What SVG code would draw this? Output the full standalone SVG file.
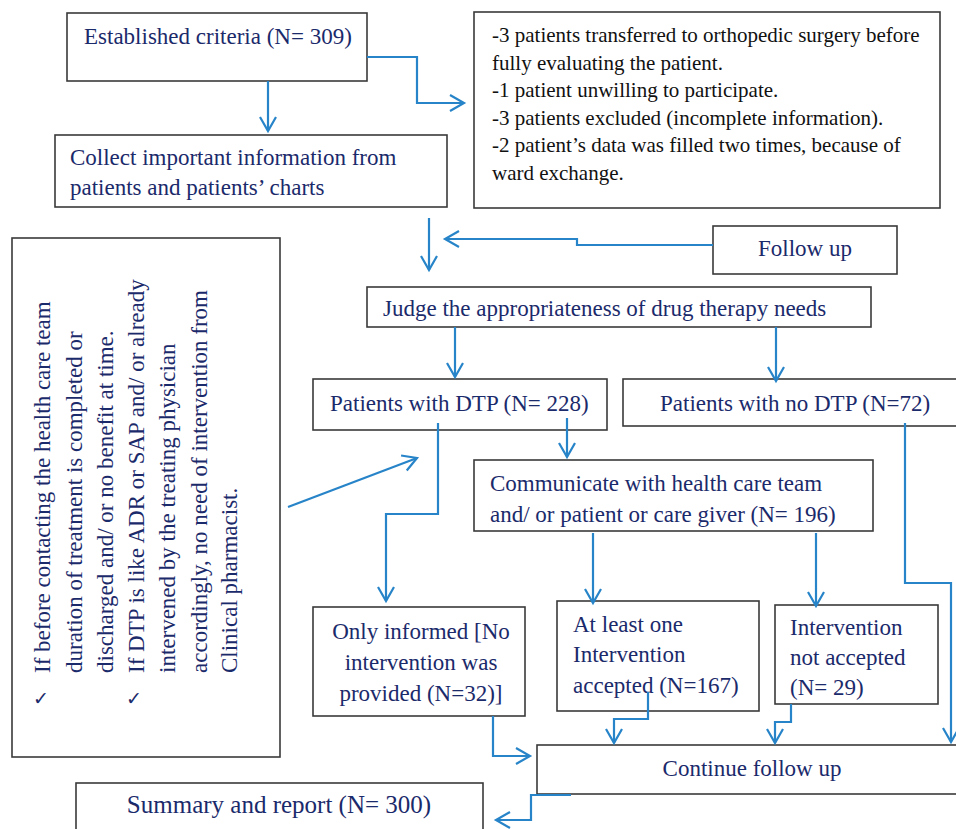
<svg xmlns="http://www.w3.org/2000/svg" width="956" height="829" viewBox="0 0 956 829">
<style>
.box{fill:#fff;stroke:#3a3a3a;stroke-width:1.6}
text{font-family:'Liberation Serif','Times New Roman',Times,serif}
.t{font-size:23px;fill:#1b2a6b}
.tb{font-size:21px;fill:#111}
.ck{font-family:'DejaVu Sans',sans-serif;font-size:19px;fill:#1b2a6b}
.c{fill:none;stroke:#2784c8;stroke-width:2.2;marker-end:url(#ah)}
.mid{text-anchor:middle}
</style>
<defs>
<marker id="ah" markerUnits="userSpaceOnUse" markerWidth="20" markerHeight="20" viewBox="-16 -10 18 20" refX="0" refY="0" orient="auto" overflow="visible">
<path d="M-14,-8 L0,0 L-14,8" fill="none" stroke="#2784c8" stroke-width="2.2"/>
</marker>
</defs>
<rect width="956" height="829" fill="#fff"/>

<g id="established">
<rect class="box" x="67" y="13" width="300" height="68"/>
<text class="t" x="84" y="44">Established criteria (N= 309)</text>
</g>
<g id="exclusions">
<rect class="box" x="474" y="12" width="466" height="196"/>
<text class="tb"><tspan x="492" y="42">-3 patients transferred to orthopedic surgery before</tspan><tspan x="492" y="70">fully evaluating the patient.</tspan><tspan x="492" y="97">-1 patient unwilling to participate.</tspan><tspan x="492" y="125">-3 patients excluded (incomplete information).</tspan><tspan x="492" y="152">-2 patient’s data was filled two times, because of</tspan><tspan x="492" y="180">ward exchange.</tspan></text>
</g>
<g id="collect">
<rect class="box" x="55" y="135" width="392" height="72"/>
<text class="t"><tspan x="70" y="165">Collect important information from</tspan><tspan x="70" y="195">patients and patients’ charts</tspan></text>
</g>
<g id="followup">
<rect class="box" x="713" y="226" width="184" height="48"/>
<text class="t mid" x="805" y="256">Follow up</text>
</g>
<g id="judge">
<rect class="box" x="367" y="287" width="504" height="40"/>
<text class="t" x="383" y="316">Judge the appropriateness of drug therapy needs</text>
</g>
<g id="notes">
<rect class="box" x="12" y="238" width="268" height="519"/>
<text class="t" transform="rotate(-90)"><tspan x="-673" y="50">If before contacting the health care team</tspan><tspan x="-673" y="82">duration of treatment is completed or</tspan><tspan x="-673" y="113">discharged and/ or no benefit at time.</tspan><tspan x="-673" y="144">If DTP is like ADR or SAP and/ or already</tspan><tspan x="-673" y="175">intervened by the treating physician</tspan><tspan x="-673" y="207">accordingly, no need of intervention from</tspan><tspan x="-673" y="237">Clinical pharmacist.</tspan></text>
<text class="ck" x="33" y="705">✓</text>
<text class="ck" x="126" y="705">✓</text>
</g>
<g id="dtp">
<rect class="box" x="313" y="379" width="294" height="51"/>
<text class="t" x="330" y="411">Patients with DTP (N= 228)</text>
</g>
<g id="nodtp">
<rect class="box" x="623" y="379" width="345" height="47"/>
<text class="t" x="660" y="411">Patients with no DTP (N=72)</text>
</g>
<g id="communicate">
<rect class="box" x="474" y="460" width="399" height="71"/>
<text class="t"><tspan x="490" y="491">Communicate with health care team</tspan><tspan x="490" y="522">and/ or patient or care giver (N= 196)</tspan></text>
</g>
<g id="informed">
<rect class="box" x="313" y="607" width="212" height="109"/>
<text class="t mid"><tspan x="421" y="639">Only informed [No</tspan><tspan x="421" y="670">intervention was</tspan><tspan x="421" y="701">provided (N=32)]</tspan></text>
</g>
<g id="accepted">
<rect class="box" x="557" y="601" width="202" height="110"/>
<text class="t"><tspan x="573" y="632">At least one</tspan><tspan x="573" y="662">Intervention</tspan><tspan x="573" y="693">accepted (N=167)</tspan></text>
</g>
<g id="notaccepted">
<rect class="box" x="775" y="605" width="163" height="99"/>
<text class="t"><tspan x="790" y="635">Intervention</tspan><tspan x="790" y="665">not accepted</tspan><tspan x="790" y="695">(N= 29)</tspan></text>
</g>
<g id="continue">
<rect class="box" x="537" y="745" width="430" height="49"/>
<text class="t mid" x="752" y="776">Continue follow up</text>
</g>
<g id="summary">
<rect class="box" x="76" y="783" width="407" height="60"/>
<text class="t mid" x="279" y="813" style="font-size:25px">Summary and report (N= 300)</text>
</g>

<g id="connectors">
<path class="c" d="M268,81 V131"/>
<path class="c" d="M367,57 H417 V103 H464"/>
<path class="c" d="M429,218 V270"/>
<path class="c" d="M713,245 H577 V239 H445"/>
<path class="c" d="M455,327 V377"/>
<path class="c" d="M776,327 V381"/>
<path class="c" d="M567,418 V457"/>
<path class="c" d="M438,423 V514 H386 V601"/>
<path class="c" d="M288,507 L417,458"/>
<path class="c" d="M905,423 V583 H951 V742"/>
<path class="c" d="M593,533 V603"/>
<path class="c" d="M816,533 V606"/>
<path class="c" d="M648,692 V719 H614 V743"/>
<path class="c" d="M791,704 V722 H775 V743"/>
<path class="c" d="M493,716 V756 H530"/>
<path class="c" d="M571,795 H531 V820 H496"/>
</g>
</svg>
